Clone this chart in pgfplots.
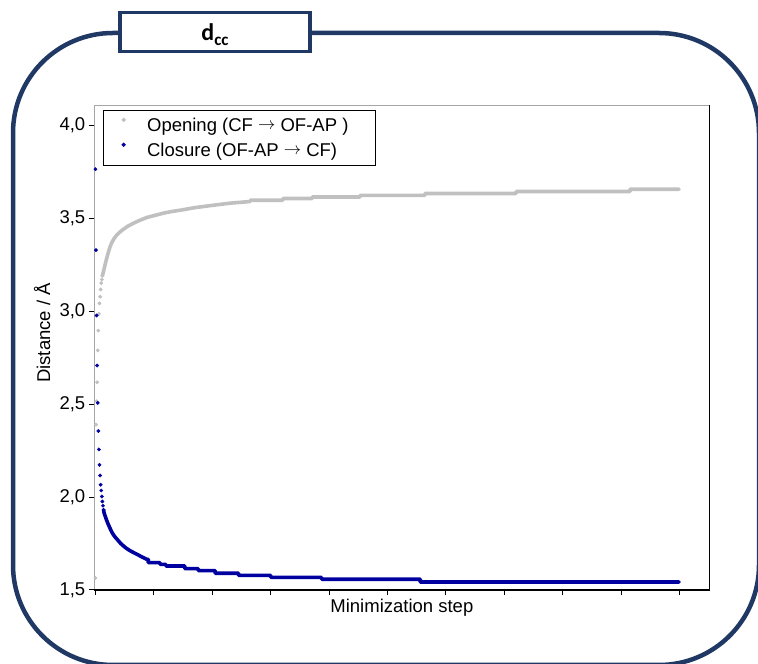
\documentclass[border=0pt]{standalone}
\usepackage{pgfplots}
\pgfplotsset{compat=1.18}
\usepackage{fontspec}
\setmainfont{Liberation Sans}
\newfontfamily\titlefont{Carlito}
\definecolor{navy}{RGB}{31,56,100}
\definecolor{dblue}{RGB}{0,0,160}
\definecolor{lgray}{RGB}{192,192,192}
\newcommand{\arr}{\raisebox{1.5pt}{$\rightarrow$}}
\begin{document}
\begin{tikzpicture}
\useasboundingbox (0pt,0pt) rectangle (758pt,664pt);
\draw[navy, line width=4.5pt, rounded corners=100pt] (13pt,-1pt) rectangle (759pt,631pt);
\node[draw=navy, line width=3.2pt, fill=white, minimum width=190pt, minimum height=39.4pt, inner sep=0pt] at (215pt,632pt) {};
\node[anchor=base, inner sep=0pt] at (215pt,623.3pt) {\titlefont\bfseries\fontsize{24}{24}\selectfont d\raisebox{-5pt}{\fontsize{17}{17}\selectfont cc}};
\begin{axis}[
  at={(94.3pt,74pt)}, anchor=south west,
  scale only axis, width=615.2pt, height=485pt,
  xmin=-1.9, xmax=1051, ymin=1.5, ymax=4.108,
  clip=false,
  axis line style={draw=none},
  xtick={0,100,...,1000}, xticklabels={},
  ytick={1.5,2,2.5,3,3.5,4},
  xtick pos=left, ytick pos=left,
  tick align=outside, major tick length=5.5pt,
  tick style={black, line width=1pt},
  yticklabel style={font=\fontsize{18.5}{20}\selectfont},
  /pgf/number format/.cd, fixed, fixed zerofill, precision=1, use comma, assume math mode=true,
  /pgfplots/.cd,
  xlabel={Minimization step},
  xlabel style={font=\fontsize{18.5}{20}\selectfont, at={(axis description cs:0.5,0)}, anchor=base, yshift=-22.7pt},
  ylabel={Distance / Å},
  ylabel style={font=\fontsize{18.5}{20}\selectfont, at={(axis description cs:-0.072,0.53)}, anchor=base},
  legend style={at={(0.0137,0.9897)}, anchor=north west, draw=black, line width=0.8pt,
    font=\fontsize{18.5}{20}\selectfont, inner xsep=18.9pt, inner ysep=7.5pt, row sep=10pt, column sep=21.7pt,
    nodes={inner sep=0pt}},
  legend cell align=left,
  legend image code/.code={\draw[#1] plot coordinates {(0pt,5.5pt)};},
]
\addplot[only marks, mark=*, mark size=1.7pt, color=lgray] coordinates {
(0,1.565)(1,2.389)(2,2.515)(3,2.617)(4,2.788)(5,2.895)(6,2.985)(7,3.041)(8,3.077)(9,3.116)(10,3.15)(11,3.17)(12,3.19)
};
\addlegendentry{Opening (CF \arr\ OF-AP )\hspace*{8pt}}
\addplot[only marks, mark=*, mark size=1.7pt, color=dblue] coordinates {
(0,3.763)(1,3.328)(2,2.976)(3,2.707)(4,2.506)(5,2.355)(6,2.256)(7,2.173)(8,2.116)(9,2.066)(10,2.035)(11,2.003)(12,1.976)(13,1.953)(14,1.931)
};
\addlegendentry{Closure (OF-AP \arr\ CF)}
\addplot[forget plot, no marks, line width=3.6pt, line cap=round, line join=round, color=lgray] coordinates {
(12,3.19)(14,3.215)(16,3.242)(19,3.28)(22,3.314)(25,3.345)(28,3.368)(32,3.39)(36,3.407)(42,3.425)(48,3.440)(56,3.457)(65,3.472)(76,3.488)(88,3.503)(100,3.513)(116,3.526)(130,3.535)(145,3.542)(170,3.556)(202,3.569)(230,3.58)(265,3.589)(265,3.596)(321,3.596)(321,3.605)(371,3.605)(371,3.613)(453,3.613)(453,3.622)(564,3.622)(564,3.632)(720,3.632)(720,3.643)(915,3.643)(915,3.655)(999,3.655)
};
\addplot[forget plot, no marks, line width=3.6pt, line cap=round, line join=round, color=dblue] coordinates {
(14,1.931)(15,1.913)(17,1.895)(19,1.877)(22,1.853)(25,1.832)(28,1.812)(31,1.796)(35,1.78)(39,1.766)(43,1.751)(48,1.737)(53,1.724)(59,1.712)(66,1.70)(73,1.689)(80,1.677)(88,1.665)(90.5,1.665)(90.5,1.647)(110.6,1.647)(110.6,1.638)(120.8,1.638)(120.8,1.629)(153,1.629)(153,1.615)(176,1.615)(176,1.604)(205,1.604)(205,1.590)(245,1.590)(245,1.579)(300,1.579)(300,1.568)(387,1.568)(387,1.558)(556,1.558)(556,1.543)(999,1.543)
};
\draw[gray!70, line width=0.8pt] (rel axis cs:0,0) -- (rel axis cs:0,1) -- (rel axis cs:1,1);
\draw[black, line width=1.2pt] (rel axis cs:0,0) -- (rel axis cs:1,0) -- (rel axis cs:1,1);
\end{axis}
\end{tikzpicture}
\end{document}
